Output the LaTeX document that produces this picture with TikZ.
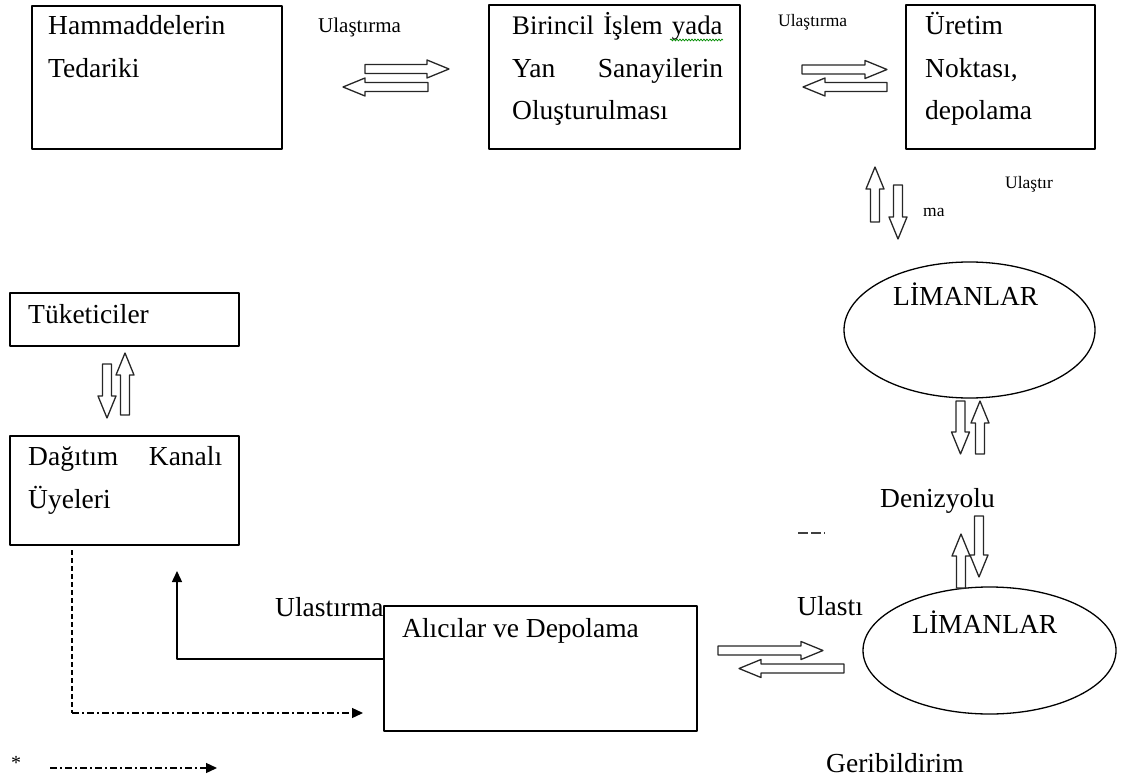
\documentclass[tikz,border=0pt]{standalone}
\usepackage{fontspec}
\setmainfont{Liberation Serif}
\usetikzlibrary{arrows.meta,shapes.geometric,decorations.pathmorphing}
\tikzset{
	pics/blokok/.style={code={
		\draw[okcizgi] (0,-4.5)--({#1-22},-4.5)--({#1-22},-9)--(#1,0)--({#1-22},9)--({#1-22},4.5)--(0,4.5)--cycle;
	}}
}
\begin{document}
\begin{tikzpicture}[x=1pt,y=-1pt,line join=round,>={Triangle[length=11pt,width=10pt]},
	kutu/.style={draw,line width=1.8pt,rectangle,inner sep=0pt},
	liman/.style={draw,line width=1.3pt,ellipse,inner sep=0pt},
	yazi/.style={font=\fontsize{27.5}{42.5}\selectfont,inner sep=0pt,anchor=base west},
	kucuk/.style={font=\fontsize{17.5}{20}\selectfont,inner sep=0pt,anchor=base west},
	okcizgi/.style={line width=1.3pt,draw=black!85,fill=white},
	baglanti/.style={line width=1.4pt},
	kesik/.style={line width=1.3pt,dash pattern=on 5pt off 3pt},
	noktacizgi/.style={line width=1.3pt,dash pattern=on 7pt off 3pt on 2pt off 3pt}]
	\useasboundingbox (0,0) rectangle (1124,778);
	% kutular
	\node[kutu,minimum width=250pt,minimum height=143pt] (ham) at (157,77.5) {};
	\node[kutu,minimum width=251pt,minimum height=144pt] (bir) at (614.5,77) {};
	\node[kutu,minimum width=189pt,minimum height=144pt] (ure) at (1000.5,77) {};
	\node[kutu,minimum width=229pt,minimum height=53pt] (tuk) at (124.5,319.5) {};
	\node[kutu,minimum width=229pt,minimum height=109pt] (dag) at (124.5,490.5) {};
	\node[kutu,minimum width=313pt,minimum height=125pt] (ali) at (540.5,668.5) {};
	\node[liman,minimum width=251pt,minimum height=136pt] (lim1) at (969.5,330) {};
	\node[liman,minimum width=253pt,minimum height=127pt] (lim2) at (989.5,650.5) {};
	% kutu yazilari
	\node[yazi,text width=210pt,align=left] (hamy) at (48,35) {Hammaddelerin\\Tedariki};
	\node[yazi,text width=211pt,align=left] (biry) at (512,35) {\makebox[211pt][s]{\fontsize{26.8}{42.5}\selectfont Birincil İşlem yada}\\Yan\hfill Sanayilerin\\Oluşturulması};
	\node[yazi,text width=165pt,align=left] (urey) at (925,35) {Üretim\\Noktası,\\depolama};
	\node[yazi] (tuky) at (28,323) {Tüketiciler};
	\node[yazi,text width=194pt,align=left,font=\fontsize{27.5}{43.5}\selectfont] (dagy) at (28,465) {Dağıtım\hfill Kanalı\\Üyeleri};
	\node[yazi] (aliy) at (402,637) {Alıcılar ve Depolama};
	\node[yazi] (lim1y) at (893,305) {LİMANLAR};
	\node[yazi] (lim2y) at (912,633) {LİMANLAR};
	\draw[green!55!black,line width=0.7pt,decorate,decoration={snake,amplitude=1pt,segment length=3pt}] (670,40)--(723,40);
	% etiketler
	\node[kucuk,font=\fontsize{21}{24}\selectfont] (u1) at (318,33) {Ulaştırma};
	\node[kucuk] (u2) at (778,27) {Ulaştırma};
	\node[kucuk] (u3a) at (1005,189) {Ulaştır};
	\node[kucuk] (u3b) at (923,217) {ma};
	\node[yazi] (deniz) at (880,507) {Denizyolu};
	\node[yazi] (u4) at (275,616) {Ulastırma};
	\node[yazi] (u5) at (797,615) {Ulastı};
	\node[yazi] (geri) at (826,772) {Geribildirim};
	\node[kucuk,font=\fontsize{20}{22}\selectfont] (yildiz) at (11,769) {*};
	\draw[line width=1.3pt,black!75,dash pattern=on 10pt off 3pt] (798,533)--(825,533);
	% blok oklar
	\pic at (365,69) {blokok=84};
	\pic[rotate=180] at (428,87) {blokok=85};
	\pic at (802,69.5) {blokok=85};
	\pic[rotate=180] at (887,87) {blokok=84};
	\pic[rotate=90] at (875,222) {blokok=55};
	\pic[rotate=-90] at (898,185) {blokok=54};
	\pic[rotate=-90] at (960.5,401) {blokok=53};
	\pic[rotate=90] at (980,454) {blokok=53};
	\pic[rotate=-90] at (979,516) {blokok=61};
	\pic[rotate=90] at (961,588) {blokok=54};
	\pic[rotate=-90] at (107,364) {blokok=54};
	\pic[rotate=90] at (125,415) {blokok=62};
	\pic at (718,650.5) {blokok=105};
	\pic[rotate=180] at (844,668.5) {blokok=105};
	% baglantilar
	\coordinate (ok1) at (177,571);
	\draw[baglanti,->] ([yshift=9.5pt]ali.west) -| (ok1);
	\coordinate (k0) at (72,550);
	\coordinate (k1) at (72,713);
	\coordinate (k2) at (363,713);
	\draw[kesik] (k0)--(k1);
	\draw[noktacizgi,->] (k1)--(k2);
	\coordinate (l1) at (50,768);
	\coordinate (l2) at (217,768);
	\draw[noktacizgi,->] (l1)--(l2);
\end{tikzpicture}
\end{document}
